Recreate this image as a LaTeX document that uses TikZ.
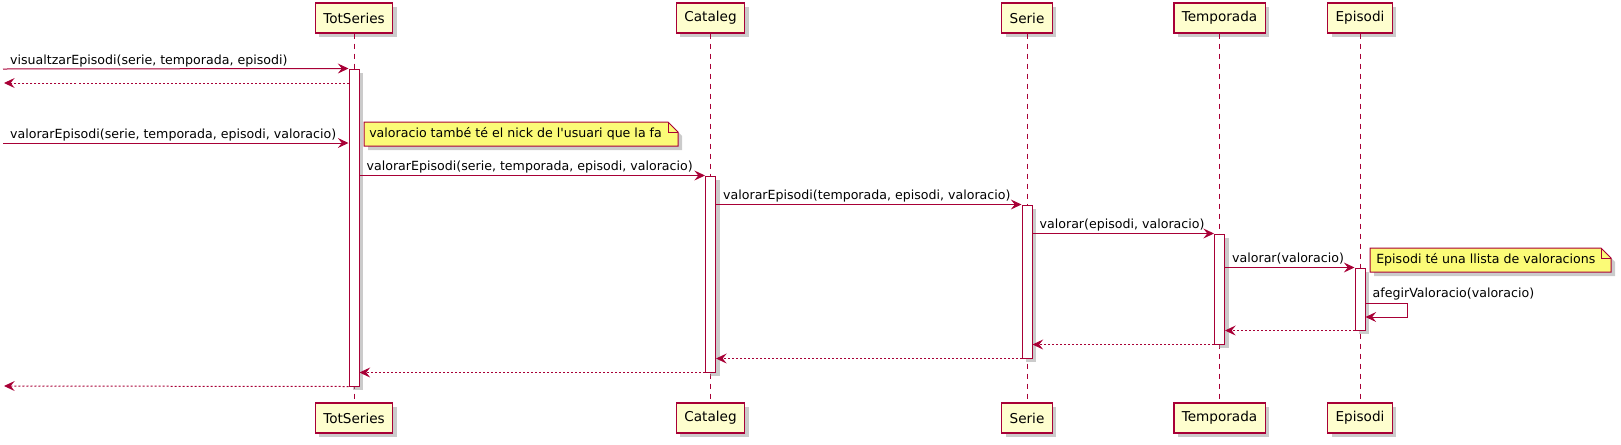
\documentclass[tikz,border=0pt]{standalone}
\usepackage{fontspec}
\setmainfont{DejaVu Sans}
\usetikzlibrary{positioning, arrows.meta, calc, shadows, fit}
\usepackage{xcolor}

\definecolor{umlred}{HTML}{A80036}
\definecolor{umlbox}{HTML}{FEFECE}
\definecolor{umlnote}{HTML}{FBFB77}

\begin{document}
\begin{tikzpicture}[
    x=0.75pt, y=-0.75pt,
    umlshadow/.style={drop shadow={shadow xshift=3pt, shadow yshift=-3pt, fill=black!45, opacity=0.45}},
    participant/.style={rectangle, draw=umlred, line width=1.1pt, fill=umlbox, minimum height=22.5pt, inner xsep=6pt, font=\fontsize{10.2}{12}\selectfont, umlshadow},
    lifeline/.style={draw=umlred, line width=0.75pt, dash pattern=on 3.75pt off 3.75pt},
    actbar/.style={rectangle, draw=umlred, line width=0.75pt, fill=white, minimum width=7.5pt, inner sep=0pt, umlshadow},
    msg/.style={draw=umlred, line width=0.75pt, -{Stealth[length=8pt, width=7.5pt, inset=3pt]}},
    ret/.style={msg, dash pattern=on 1.5pt off 1.5pt},
    lbl/.style={font=\fontsize{9.45}{11}\selectfont, inner sep=0pt, anchor=base west, text=black, pos=0, xshift=5pt, yshift=3.75pt},
    note/.style={draw=umlred, line width=0.75pt, fill=umlnote, umlshadow},
    notetext/.style={font=\fontsize{9.45}{11}\selectfont, inner sep=0pt, anchor=west}
]
    \useasboundingbox (0,0) rectangle (1621,444);

    % participants, top and bottom
    \node[participant] (totseries) at (354,18) {TotSeries};
    \node[participant] (cataleg) at (710.5,18) {Cataleg};
    \node[participant] (serie) at (1027,18) {Serie};
    \node[participant] (temporada) at (1219.5,18) {Temporada};
    \node[participant] (episodi) at (1360,18) {Episodi};

    \node[participant] (totseriesb) at (354,418) {TotSeries};
    \node[participant] (catalegb) at (710.5,418) {Cataleg};
    \node[participant] (serieb) at (1027,418) {Serie};
    \node[participant] (temporadab) at (1219.5,418) {Temporada};
    \node[participant] (episodib) at (1360,418) {Episodi};

    % lifelines
    \draw[lifeline] (totseries) -- (totseriesb);
    \draw[lifeline] (cataleg) -- (catalegb);
    \draw[lifeline] (serie) -- (serieb);
    \draw[lifeline] (temporada) -- (temporadab);
    \draw[lifeline] (episodi) -- (episodib);

    % activations
    \node[actbar, fit={(354,69) (354,386)}] (totbar) {};
    \node[actbar, fit={(710.5,176) (710.5,372)}] (catbar) {};
    \node[actbar, fit={(1027,205) (1027,358)}] (serbar) {};
    \node[actbar, fit={(1219.5,234) (1219.5,344)}] (tembar) {};
    \node[actbar, fit={(1360,268) (1360,330)}] (epibar) {};

    % notes
    \filldraw[note] (364,122) -- (668,122) -- (678,132) -- (678,146) -- (364,146) -- cycle;
    \draw[umlred, line width=0.75pt] (668,122) -- (668,132) -- (678,132);
    \node[notetext] (note1) at (369,134) {valoracio també té el nick de l\textquotesingle usuari que la fa};

    \filldraw[note] (1370,248) -- (1601,248) -- (1611,258) -- (1611,272) -- (1370,272) -- cycle;
    \draw[umlred, line width=0.75pt] (1601,248) -- (1601,258) -- (1611,258);
    \node[notetext] (note2) at (1376,260) {Episodi té una llista de valoracions};

    % incoming from the left
    \coordinate (in1) at (3,69);
    \coordinate (out1) at (4,83);
    \coordinate (in2) at (3,143);
    \coordinate (out2) at (4,386);
    \draw[msg] (in1) -- node[lbl] {visualtzarEpisodi(serie, temporada, episodi)} (totbar.north west);
    \draw[ret] (totbar.west |- out1) -- (out1);
    \draw[msg] (in2) -- node[lbl] {valorarEpisodi(serie, temporada, episodi, valoracio)} (totbar.west |- in2);

    % calls
    \draw[msg] (totbar.east |- catbar.north) -- node[lbl] {valorarEpisodi(serie, temporada, episodi, valoracio)} (catbar.north west);
    \draw[msg] (catbar.east |- serbar.north) -- node[lbl] {valorarEpisodi(temporada, episodi, valoracio)} (serbar.north west);
    \draw[msg] (serbar.east |- tembar.north) -- node[lbl] {valorar(episodi, valoracio)} (tembar.north west);
    \draw[msg] (tembar.east |- epibar.north) -- node[lbl] {valorar(valoracio)} (epibar.north west);

    % self call
    \coordinate (selftop) at (1407,303);
    \coordinate (selfbot) at (1407,317);
    \draw[msg] (epibar.east |- selftop) -- node[lbl, yshift=0.75pt] {afegirValoracio(valoracio)} (selftop) -- (selfbot) -- (epibar.east |- selfbot);

    % returns
    \draw[ret] (epibar.south west) -- (tembar.east |- epibar.south);
    \draw[ret] (tembar.south west) -- (serbar.east |- tembar.south);
    \draw[ret] (serbar.south west) -- (catbar.east |- serbar.south);
    \draw[ret] (catbar.south west) -- (totbar.east |- catbar.south);
    \draw[ret] (totbar.south west) -- (out2);
\end{tikzpicture}
\end{document}
